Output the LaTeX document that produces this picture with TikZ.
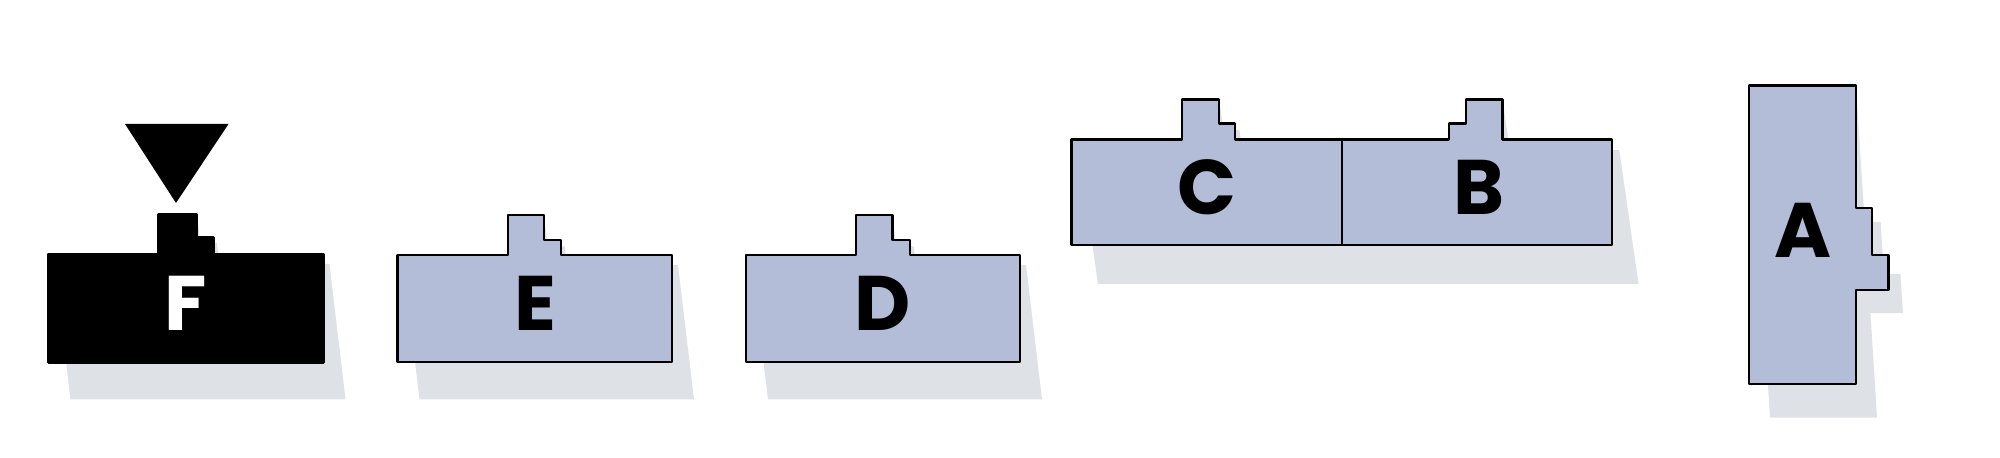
\documentclass[tikz,border=0pt]{standalone}
\usepackage{fontspec}
\setmainfont{Poppins}
\usepackage{xcolor}
\definecolor{block-fill}{HTML}{B3BDD7}
\definecolor{shadow-gray}{HTML}{DEE1E5}

\begin{document}
\begin{tikzpicture}[x=0.01cm, y=-0.01cm,
    block/.style={draw=black, fill=block-fill, line width=0.75pt, line join=round},
    blockshadow/.style={fill=shadow-gray},
    letter/.style={font=\fontsize{22}{22}\selectfont\bfseries, inner sep=0pt}]
    % Diagram: six puzzle blocks F, E, D, C+B, A with slanted drop shadows.
    % Coordinates: px of a 2000x458 canvas, y pointing down
    %   F block x 48.5..323.5, y 254..362.5 (black, tab on top, marker above)
    %   E block x 397.5..672, D block x 746..1020, y 255..362
    %   C+B pair x 1071.5..1612, y 139.5..245, joint at x=1342
    %   A block x 1749..1856, y 85.5..384, tab on the right side
    \useasboundingbox (0,0) rectangle (2000,458);

    % shadows
    \fill[blockshadow] (70.5,399.3) -- (54.4,263.8) -- (164.4,263.8) -- (158.5,214.5)
      -- (197,214.5) -- (200.4,243.2) -- (216.9,243.2) -- (219.4,263.8)
      -- (329.4,263.8) -- (345.5,399.3) -- cycle;
    \fill[blockshadow] (419.5,399.3) -- (403.5,265.1) -- (514,265.1) -- (508,215)
      -- (544,215) -- (547.7,246.3) -- (564.7,246.3) -- (567,265.1)
      -- (678,265.1) -- (694,399.3) -- cycle;
    \fill[blockshadow] (768,399.3) -- (752,265.1) -- (862,265.1) -- (856,215)
      -- (892.5,215) -- (896.2,246.3) -- (913.7,246.3) -- (916,265.1)
      -- (1026,265.1) -- (1042,399.3) -- cycle;
    \fill[blockshadow] (1098,284) -- (1078.8,150.2) -- (1189.3,150.2) -- (1182,99.5)
      -- (1219,99.5) -- (1223.4,129.9) -- (1239.4,129.9) -- (1242.3,150.2)
      -- (1456.3,150.2) -- (1453.4,129.9) -- (1470.4,129.9) -- (1466,99.5)
      -- (1502.5,99.5) -- (1509.8,150.2) -- (1619.3,150.2) -- (1638.5,284) -- cycle;
    \fill[blockshadow] (1749,85.5) -- (1856,85.5) -- (1864.6,221.8) -- (1880.6,221.8)
      -- (1883.9,274.1) -- (1900.4,274.1) -- (1902.9,313.1) -- (1870.4,313.1)
      -- (1877,417.7) -- (1770,417.7) -- cycle;

    % blocks
    \draw[block, fill=black] (48.5,362.5) -- (48.5,254) -- (158.5,254) -- (158.5,214.5)
      -- (197,214.5) -- (197,237.5) -- (213.5,237.5) -- (213.5,254)
      -- (323.5,254) -- (323.5,362.5) -- cycle;
    \draw[block] (397.5,362) -- (397.5,255) -- (508,255) -- (508,215)
      -- (544,215) -- (544,240) -- (561,240) -- (561,255)
      -- (672,255) -- (672,362) -- cycle;
    \draw[block] (746,362) -- (746,255) -- (856,255) -- (856,215)
      -- (892.5,215) -- (892.5,240) -- (910,240) -- (910,255)
      -- (1020,255) -- (1020,362) -- cycle;
    \draw[block] (1071.5,245) -- (1071.5,139.5) -- (1182,139.5) -- (1182,99.5)
      -- (1219,99.5) -- (1219,123.5) -- (1235,123.5) -- (1235,139.5)
      -- (1342,139.5) -- (1342,245) -- cycle;
    \draw[block] (1342,245) -- (1342,139.5) -- (1449,139.5) -- (1449,123.5)
      -- (1466,123.5) -- (1466,99.5) -- (1502.5,99.5) -- (1502.5,139.5)
      -- (1612,139.5) -- (1612,245) -- cycle;
    \draw[block] (1749,384) -- (1749,85.5) -- (1856,85.5) -- (1856,208)
      -- (1872,208) -- (1872,255) -- (1888.5,255) -- (1888.5,290)
      -- (1856,290) -- (1856,384) -- cycle;

    % marker above F
    \fill[black] (125,124) -- (228.5,124) -- (176,203) -- cycle;

    % labels
    \node[letter, text=white] (lblF) at (186,303) {F};
    \node[letter] (lblE) at (535,303) {E};
    \node[letter] (lblD) at (883,303) {D};
    \node[letter] (lblC) at (1206.5,187) {C};
    \node[letter] (lblB) at (1479,187) {B};
    \node[letter] (lblA) at (1802.5,230) {A};
  \end{tikzpicture}
\end{document}
